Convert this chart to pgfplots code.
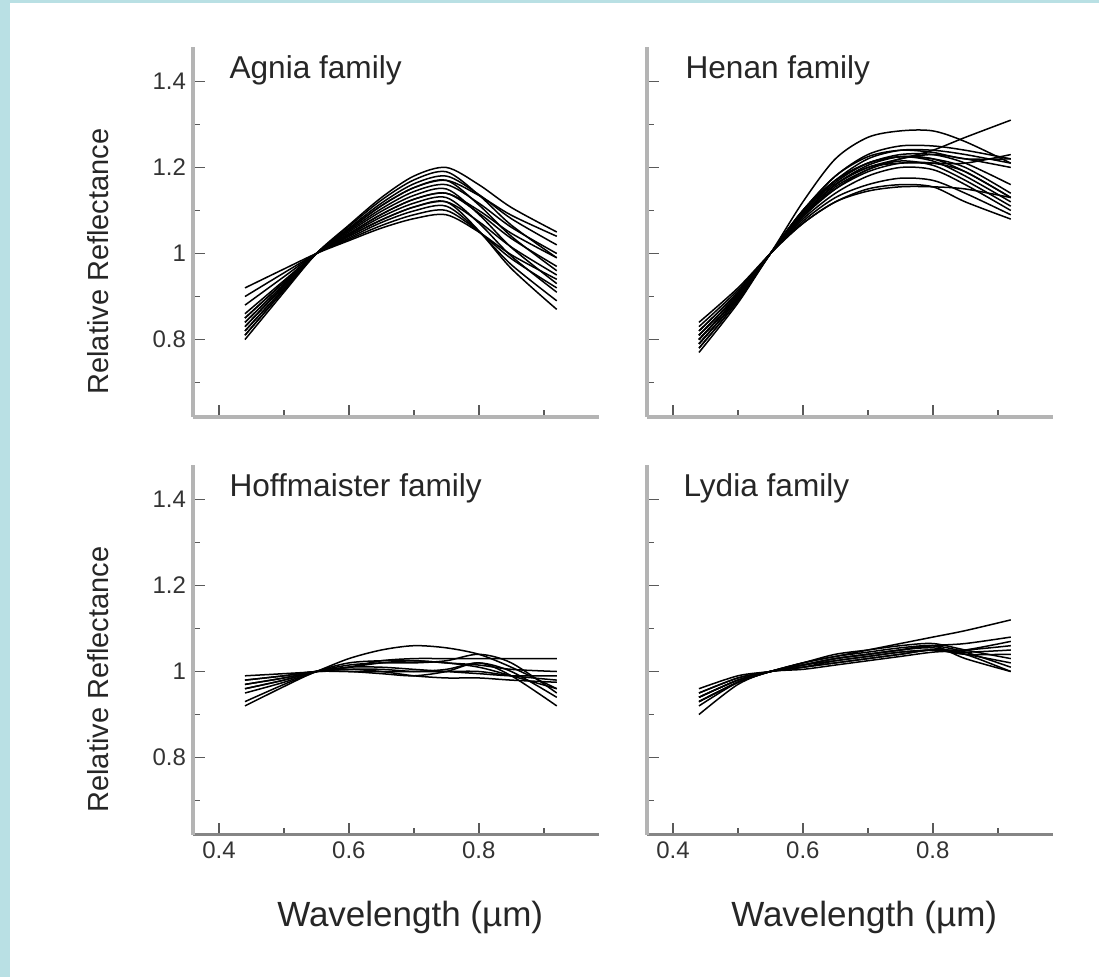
\documentclass[border=0pt]{standalone}
\usepackage{fontspec}
\setmainfont{Liberation Sans}
\usepackage{pgfplots}
\pgfplotsset{compat=1.18}
\usepackage{pgfplotstable}
\definecolor{framec}{HTML}{B9E0E4}
\definecolor{axgray}{HTML}{B4B4B4}
\definecolor{axdark}{HTML}{858585}
\definecolor{tickgray}{HTML}{5A5A5A}

% Agnia family
\pgfplotstableread{
x    c1    c2    c3    c4    c5    c6    c7    c8    c9    c10   c11   c12   c13   c14   c15
0.44 0.800 0.810 0.820 0.820 0.830 0.830 0.840 0.840 0.850 0.860 0.880 0.900 0.920 0.850 0.810
0.50 0.910 0.915 0.919 0.919 0.924 0.924 0.928 0.928 0.933 0.937 0.946 0.955 0.964 0.933 0.915
0.55 1.000 1.000 1.000 1.000 1.000 1.000 1.000 1.000 1.000 1.000 1.000 1.000 1.000 1.000 1.000
0.60 1.066 1.063 1.059 1.056 1.053 1.050 1.046 1.043 1.040 1.036 1.033 1.040 1.030 1.056 1.046
0.65 1.130 1.124 1.117 1.111 1.104 1.098 1.091 1.085 1.078 1.072 1.065 1.078 1.059 1.111 1.091
0.70 1.180 1.171 1.162 1.153 1.144 1.135 1.126 1.117 1.108 1.099 1.090 1.108 1.081 1.153 1.126
0.75 1.200 1.190 1.180 1.170 1.160 1.150 1.140 1.130 1.120 1.110 1.100 1.120 1.090 1.170 1.140
0.80 1.160 1.136 1.137 1.113 1.117 1.091 1.094 1.071 1.074 1.051 1.051 1.053 1.050 1.135 1.100
0.85 1.107 1.066 1.081 1.040 1.061 1.014 1.035 0.994 1.015 0.974 0.988 0.965 0.997 1.089 1.047
0.92 1.050 0.990 1.020 0.960 1.000 0.930 0.970 0.910 0.950 0.890 0.920 0.870 0.940 1.040 0.990
}\agnia

% Henan family
\pgfplotstableread{
x    c1    c2    c3    c4    c5    c6    c7    c8    c9    c10   c11   c12   c13   c14   c15   c16   c17
0.44 0.780 0.800 0.790 0.800 0.810 0.820 0.830 0.800 0.780 0.790 0.810 0.820 0.800 0.840 0.770 0.790 0.810
0.50 0.890 0.900 0.895 0.900 0.905 0.910 0.915 0.900 0.890 0.895 0.905 0.910 0.900 0.920 0.885 0.895 0.905
0.55 1.000 1.000 1.000 1.000 1.000 1.000 1.000 1.000 1.000 1.000 1.000 1.000 1.000 1.000 1.000 1.000 1.000
0.60 1.120 1.090 1.100 1.090 1.085 1.080 1.075 1.070 1.100 1.095 1.090 1.085 1.100 1.070 1.100 1.090 1.095
0.65 1.220 1.160 1.180 1.160 1.150 1.140 1.130 1.120 1.170 1.165 1.160 1.155 1.180 1.120 1.170 1.150 1.170
0.70 1.270 1.200 1.225 1.205 1.195 1.180 1.160 1.145 1.210 1.210 1.200 1.195 1.230 1.150 1.210 1.190 1.220
0.75 1.285 1.220 1.240 1.225 1.215 1.200 1.175 1.155 1.230 1.225 1.210 1.220 1.250 1.160 1.225 1.210 1.240
0.80 1.285 1.240 1.235 1.220 1.205 1.195 1.170 1.155 1.230 1.220 1.210 1.230 1.250 1.155 1.215 1.210 1.240
0.85 1.260 1.270 1.220 1.190 1.170 1.160 1.140 1.150 1.210 1.200 1.210 1.220 1.240 1.120 1.180 1.190 1.230
0.92 1.210 1.310 1.220 1.130 1.110 1.100 1.090 1.130 1.160 1.140 1.230 1.200 1.220 1.080 1.120 1.130 1.210
}\henan

% Hoffmeister family
\pgfplotstableread{
x    c1    c2    c3    c4    c5    c6    c7    c8    c9    c10
0.44 0.970 0.930 0.990 0.960 0.950 0.980 0.920 0.970 0.980 0.960
0.50 0.985 0.970 0.995 0.980 0.975 0.990 0.965 0.985 0.990 0.980
0.55 1.000 1.000 1.000 1.000 1.000 1.000 1.000 1.000 1.000 1.000
0.60 1.005 1.030 1.010 1.005 1.015 1.000 1.020 1.010 1.000 1.010
0.65 1.005 1.050 1.025 1.000 1.020 0.995 1.025 1.020 1.000 1.010
0.70 1.000 1.060 1.030 0.990 1.020 0.990 1.025 1.025 1.000 1.005
0.75 1.000 1.055 1.030 0.985 1.025 1.000 1.020 1.020 1.005 1.000
0.80 1.000 1.040 1.030 0.985 1.040 1.020 1.010 1.015 1.020 0.995
0.85 0.990 1.010 1.030 0.980 1.020 0.990 0.990 1.005 1.000 0.990
0.92 0.980 0.960 1.030 0.975 0.950 0.920 0.960 1.000 0.940 0.990
}\hoffmeister

% Lydia family
\pgfplotstableread{
x    c1    c2    c3    c4    c5    c6    c7    c8    c9    c10   c11
0.44 0.930 0.940 0.950 0.940 0.920 0.900 0.950 0.930 0.960 0.940 0.930
0.50 0.975 0.980 0.985 0.980 0.975 0.970 0.985 0.975 0.990 0.980 0.975
0.55 1.000 1.000 1.000 1.000 1.000 1.000 1.000 1.000 1.000 1.000 1.000
0.60 1.020 1.015 1.015 1.020 1.015 1.010 1.010 1.020 1.010 1.005 1.015
0.65 1.035 1.030 1.030 1.035 1.025 1.020 1.020 1.040 1.025 1.015 1.030
0.70 1.050 1.040 1.040 1.045 1.035 1.030 1.030 1.050 1.035 1.025 1.040
0.75 1.065 1.050 1.050 1.055 1.045 1.040 1.040 1.060 1.045 1.035 1.050
0.80 1.080 1.060 1.055 1.060 1.050 1.050 1.050 1.065 1.050 1.045 1.060
0.85 1.095 1.065 1.040 1.045 1.050 1.040 1.040 1.050 1.045 1.050 1.030
0.92 1.120 1.080 1.000 1.010 1.060 1.020 1.040 1.030 1.050 1.070 1.000
}\lydia

\tikzset{
  ttl/.style={anchor=base west, inner sep=0pt, font=\fontsize{15.8}{18}\selectfont, text=black!85},
}
\pgfplotsset{
  panel/.style={
    scale only axis, width=203pt, height=185pt,
    xmin=0.36, xmax=0.985, ymin=0.62, ymax=1.48,
    axis lines*=left,
    axis line style={axgray, line width=2pt},
    tick align=inside,
    xtick={0.4,0.6,0.8}, minor xtick={0.5,0.7,0.9},
    ytick={0.8,1,1.2,1.4}, minor ytick={0.7,0.9,1.1,1.3},
    major tick length=6pt, minor tick length=3.5pt,
    every tick/.style={tickgray, line width=0.9pt},
    tick label style={font=\fontsize{12}{14}\selectfont, text=black!80},
    /pgf/number format/assume math mode=true,
    ylabel style={at={(rel axis cs:-0.234,0.42)}, anchor=center,
      font=\fontsize{14.5}{17}\selectfont, text=black!85},
    xlabel style={at={(rel axis cs:0.535,0)}, yshift=-41pt, anchor=center,
      font=\fontsize{17.5}{20}\selectfont, text=black!85},
    clip=false,
  },
  curve/.style={black, line width=0.75pt, smooth, no markers},
}

\begin{document}
\begin{tikzpicture}
\path[use as bounding box] (0,0) rectangle (549.5pt,488.5pt);
\fill[framec] (0,0) rectangle (5pt,488.5pt);
\fill[framec] (0,487pt) rectangle (549.5pt,488.5pt);

% Top left: Agnia
\begin{axis}[panel, at={(96.5pt,280pt)}, anchor=south west,
  xticklabels={}, ylabel={Relative Reflectance}]
\pgfplotsinvokeforeach{1,...,15}{\addplot[curve] table[x=x,y=c#1]{\agnia};}
\node[ttl] at (rel axis cs:0.089,0.914) {Agnia family};
\end{axis}

% Top right: Henan
\begin{axis}[panel, at={(323.5pt,280pt)}, anchor=south west,
  xticklabels={}, yticklabels={}]
\pgfplotsinvokeforeach{1,...,17}{\addplot[curve] table[x=x,y=c#1]{\henan};}
\node[ttl] at (rel axis cs:0.094,0.914) {Henan family};
\end{axis}

% Bottom left: Hoffmeister
\begin{axis}[panel, at={(96.5pt,71pt)}, anchor=south west,
  x axis line style={axdark, line width=1.5pt},
  ylabel={Relative Reflectance}, xlabel={Wavelength (µm)}]
\pgfplotsinvokeforeach{1,...,10}{\addplot[curve] table[x=x,y=c#1]{\hoffmeister};}
\node[ttl] at (rel axis cs:0.089,0.914) {Hoffmaister family};
\end{axis}

% Bottom right: Lydia
\begin{axis}[panel, at={(323.5pt,71pt)}, anchor=south west,
  x axis line style={axdark, line width=1.5pt},
  yticklabels={}, xlabel={Wavelength (µm)}]
\pgfplotsinvokeforeach{1,...,11}{\addplot[curve] table[x=x,y=c#1]{\lydia};}
\node[ttl] at (rel axis cs:0.089,0.914) {Lydia family};
\end{axis}
\end{tikzpicture}
\end{document}
